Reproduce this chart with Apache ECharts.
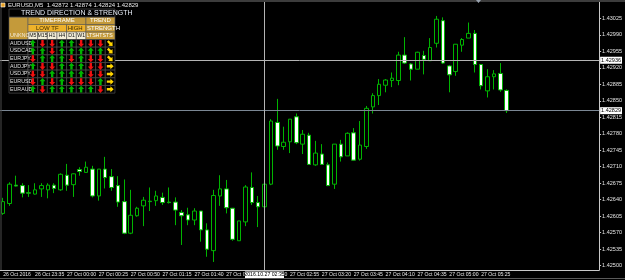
<!DOCTYPE html>
<html lang="en">
<head>
  <meta charset="UTF-8">
  <title>EURUSD M5</title>
  <style>
    html, body { margin: 0; padding: 0; background: #000; }
    #main { width: 625px; height: 280px; }
  </style>
</head>
<body>
  <div id="main"></div>
  <script src="https://cdn.jsdelivr.net/npm/echarts@6/dist/echarts.min.js"></script>
  <script>
    // M5 bar times
    const times = [
      '26 Oct 23:10', '26 Oct 23:15', '26 Oct 23:20', '26 Oct 23:25', '26 Oct 23:30', '26 Oct 23:35',
      '26 Oct 23:40', '26 Oct 23:45', '26 Oct 23:50', '26 Oct 23:55', '27 Oct 00:00', '27 Oct 00:05',
      '27 Oct 00:10', '27 Oct 00:15', '27 Oct 00:20', '27 Oct 00:25', '27 Oct 00:30', '27 Oct 00:35',
      '27 Oct 00:40', '27 Oct 00:45', '27 Oct 00:50', '27 Oct 00:55', '27 Oct 01:00', '27 Oct 01:05',
      '27 Oct 01:10', '27 Oct 01:15', '27 Oct 01:20', '27 Oct 01:25', '27 Oct 01:30', '27 Oct 01:35',
      '27 Oct 01:40', '27 Oct 01:45', '27 Oct 01:50', '27 Oct 01:55', '27 Oct 02:00', '27 Oct 02:05',
      '27 Oct 02:10', '27 Oct 02:15', '27 Oct 02:20', '27 Oct 02:25', '27 Oct 02:30', '27 Oct 02:35',
      '27 Oct 02:40', '27 Oct 02:45', '27 Oct 02:50', '27 Oct 02:55', '27 Oct 03:00', '27 Oct 03:05',
      '27 Oct 03:10', '27 Oct 03:15', '27 Oct 03:20', '27 Oct 03:25', '27 Oct 03:30', '27 Oct 03:35',
      '27 Oct 03:40', '27 Oct 03:45', '27 Oct 03:50', '27 Oct 03:55', '27 Oct 04:00', '27 Oct 04:05',
      '27 Oct 04:10', '27 Oct 04:15', '27 Oct 04:20', '27 Oct 04:25', '27 Oct 04:30', '27 Oct 04:35',
      '27 Oct 04:40', '27 Oct 04:45', '27 Oct 04:50', '27 Oct 04:55', '27 Oct 05:00', '27 Oct 05:05',
      '27 Oct 05:10', '27 Oct 05:15', '27 Oct 05:20', '27 Oct 05:25', '27 Oct 05:30', '27 Oct 05:35',
      '27 Oct 05:40', '27 Oct 05:45'
    ];
    const opens = [
      1.42611, 1.42632, 1.42671, 1.42670, 1.42655, 1.42652, 1.42663, 1.42661, 1.42671, 1.42661,
      1.42692, 1.42672, 1.42704, 1.42698, 1.42705, 1.42648, 1.42705, 1.42689, 1.42670, 1.42636,
      1.42569, 1.42606, 1.42627, 1.42637, 1.42638, 1.42645, 1.42635, 1.42635, 1.42613, 1.42608,
      1.42597, 1.42616, 1.42576, 1.42532, 1.42648, 1.42663, 1.42622, 1.42553, 1.42593, 1.42666,
      1.42634, 1.42625, 1.42673, 1.42804, 1.42753, 1.42763, 1.42816, 1.42758, 1.42777, 1.42714,
      1.42737, 1.42714, 1.42673, 1.42758, 1.42733, 1.42782, 1.42726, 1.42753, 1.42837, 1.42861,
      1.42883, 1.42893, 1.42893, 1.42947, 1.42928, 1.42917, 1.42946, 1.42935, 1.42972, 1.43020,
      1.42924, 1.42912, 1.42968, 1.42983, 1.42993, 1.42927, 1.42871, 1.42901, 1.42908, 1.42872
    ];
    const closes = [
      1.42636, 1.42673, 1.42669, 1.42654, 1.42654, 1.42661, 1.42670, 1.42671, 1.42664, 1.42694,
      1.42671, 1.42695, 1.42700, 1.42709, 1.42648, 1.42705, 1.42687, 1.42666, 1.42635, 1.42569,
      1.42607, 1.42622, 1.42639, 1.42636, 1.42648, 1.42634, 1.42634, 1.42618, 1.42606, 1.42597,
      1.42616, 1.42576, 1.42535, 1.42649, 1.42663, 1.42623, 1.42556, 1.42595, 1.42667, 1.42634,
      1.42625, 1.42673, 1.42807, 1.42754, 1.42762, 1.42811, 1.42761, 1.42779, 1.42715, 1.42739,
      1.42715, 1.42670, 1.42758, 1.42731, 1.42781, 1.42724, 1.42756, 1.42834, 1.42861, 1.42885,
      1.42894, 1.42898, 1.42947, 1.42930, 1.42917, 1.42953, 1.42938, 1.42963, 1.43023, 1.42930,
      1.42905, 1.42970, 1.42980, 1.42993, 1.42927, 1.42882, 1.42901, 1.42907, 1.42873, 1.42829
    ];
    const lows = [
      1.42608, 1.42627, 1.42668, 1.42645, 1.42646, 1.42651, 1.42646, 1.42643, 1.42654, 1.42659,
      1.42659, 1.42646, 1.42691, 1.42698, 1.42645, 1.42638, 1.42664, 1.42659, 1.42625, 1.42567,
      1.42567, 1.42604, 1.42584, 1.42616, 1.42627, 1.42629, 1.42632, 1.42586, 1.42544, 1.42586,
      1.42586, 1.42551, 1.42519, 1.42508, 1.42627, 1.42611, 1.42553, 1.42553, 1.42584, 1.42629,
      1.42582, 1.42622, 1.42671, 1.42746, 1.42746, 1.42739, 1.42758, 1.42737, 1.42714, 1.42712,
      1.42714, 1.42669, 1.42663, 1.42721, 1.42733, 1.42723, 1.42723, 1.42748, 1.42823, 1.42841,
      1.42868, 1.42879, 1.42883, 1.42928, 1.42893, 1.42917, 1.42906, 1.42935, 1.42963, 1.42928,
      1.42868, 1.42903, 1.42954, 1.42983, 1.42910, 1.42874, 1.42857, 1.42874, 1.42869, 1.42824
    ];
    const highs = [
      1.42644, 1.42677, 1.42691, 1.42675, 1.42671, 1.42675, 1.42675, 1.42675, 1.42675, 1.42696,
      1.42716, 1.42696, 1.42709, 1.42721, 1.42712, 1.42705, 1.42731, 1.42705, 1.42690, 1.42683,
      1.42661, 1.42625, 1.42646, 1.42666, 1.42659, 1.42655, 1.42666, 1.42645, 1.42618, 1.42623,
      1.42622, 1.42616, 1.42590, 1.42661, 1.42692, 1.42682, 1.42622, 1.42595, 1.42671, 1.42698,
      1.42648, 1.42686, 1.42811, 1.42854, 1.42795, 1.42811, 1.42823, 1.42788, 1.42782, 1.42765,
      1.42758, 1.42719, 1.42758, 1.42767, 1.42783, 1.42792, 1.42807, 1.42839, 1.42866, 1.42896,
      1.42896, 1.42910, 1.42954, 1.42985, 1.42930, 1.42954, 1.42956, 1.42983, 1.43030, 1.43027,
      1.42926, 1.42970, 1.42983, 1.43016, 1.43000, 1.42927, 1.42917, 1.42915, 1.42930, 1.42874
    ];
    const priceTicks = [
      1.42500, 1.42535, 1.42570, 1.42605, 1.42640, 1.42675, 1.42710, 1.42745,
      1.42780, 1.42815, 1.42850, 1.42885, 1.42920, 1.42955, 1.42990, 1.43025
    ];
    const cursorPrice = 1.42936;
    const cursorTime = '27 Oct 02:35';
    const cursorLabel = '2016.10.27 02:35';

    // indicator table
    const pairs = ['AUDUSD', 'USDCAD', 'EURJPY', 'AUDJPY', 'USDJPY', 'EURUSD', 'EURAUD'];
    const tfNames = ['M5', 'M15', 'H1', 'H4', 'D1', 'W1'];
    // 1 = up, -1 = down : six timeframes then two strength columns
    const tfArrows = [
      [1, -1, -1, 1, 1, -1, -1, -1],
      [1, 1, -1, 1, 1, 1, 1, 1],
      [-1, 1, 1, 1, -1, 1, -1, -1],
      [1, -1, -1, 1, 1, 1, -1, -1],
      [-1, -1, 1, 1, 1, 1, -1, -1],
      [-1, 1, -1, 1, -1, -1, -1, 1],
      [1, -1, 1, 1, 1, 1, 1, -1]
    ];
    const trendArrows = ['se', 'se', 'se', 'e', 'e', 'e', 'e'];

    const FONT = "'Liberation Sans',Arial,sans-serif";
    const slots = 94; // bars that fit in the window incl. right shift
    const cats = times.concat(new Array(slots - times.length).fill(''));
    const candles = opens.map((o, i) => [o, closes[i], lows[i], highs[i]]);
    const last = candles.length - 1;

    // ---- overlay table (graphic) ----
    const g = [];
    const rect = (x, y, w, h, fill, stroke) => ({
      type: 'rect', z: 100, silent: true,
      shape: { x: x, y: y, width: w, height: h },
      style: { fill: fill, stroke: stroke || '#5a5a5a', lineWidth: 0.6 }
    });
    const txt = (x, y, s, fill, size, align, weight) => ({
      type: 'text', z: 101, silent: true, x: x, y: y,
      style: {
        text: s, fill: fill, font: (weight || 'normal') + ' ' + size + 'px ' + FONT,
        align: align || 'center', verticalAlign: 'middle'
      }
    });
    const upPts = [[0, -3.6], [3, -0.3], [1.2, -0.3], [1.2, 3.3], [-1.2, 3.3], [-1.2, -0.3], [-3, -0.3]];
    const arrow = (cx, cy, deg, fill) => {
      const a = deg * Math.PI / 180;
      const pts = upPts.map(p => [cx + p[0] * Math.cos(a) - p[1] * Math.sin(a),
                                  cy + p[0] * Math.sin(a) + p[1] * Math.cos(a)]);
      return { type: 'polygon', z: 102, silent: true, shape: { points: pts }, style: { fill: fill } };
    };

    const tx = 9, nameW = 19, colW = 9.66, rowH = 7.66, rowTop = 39.5;
    const colX = i => tx + nameW + (i + 0.5) * colW;
    const tEnd = tx + nameW + 9 * colW;

    // header line
    g.push(rect(1, 3, 4, 4, '#e8a020', '#fff'));
    g.push(txt(8, 5, 'EURUSD,M5  ' + opens[last].toFixed(5) + ' ' + highs[last].toFixed(5) + ' ' +
      lows[last].toFixed(5) + ' ' + closes[last].toFixed(5), '#e8e8e8', 6, 'left'));
    // title
    g.push(rect(tx, 9, tEnd - tx, 8.2, '#000'));
    g.push(txt(21, 13.3, 'TREND DIRECTION & STRENGTH', '#e6ecf6', 7, 'left'));
    // group headers
    g.push(rect(tx, 17.2, nameW, rowTop - 17.2, '#c49a3a'));
    g.push(txt(tx + 1, 35.8, 'UNKNO', '#f2ead8', 5.5, 'left'));
    g.push(rect(tx + nameW, 17.2, 6 * colW, 7.3, '#c49a3a'));
    g.push(txt(tx + nameW + 3 * colW, 20.8, 'TIMEFRAME', '#ffffff', 6));
    g.push(rect(tx + nameW + 6 * colW, 17.2, 3 * colW, 7.3, '#c49a3a'));
    g.push(txt(tx + nameW + 7.5 * colW, 20.8, 'TREND', '#ffffff', 6));
    g.push(rect(tx + nameW, 24.5, 4 * colW, 7.5, '#efb22a'));
    g.push(txt(tx + nameW + 2 * colW, 28.3, 'LOW TF', '#3a2a00', 6));
    g.push(rect(tx + nameW + 4 * colW, 24.5, 2 * colW, 7.5, '#efb22a'));
    g.push(txt(tx + nameW + 4 * colW + 1, 28.3, 'HIGH', '#3a2a00', 6, 'left'));
    g.push(rect(tx + nameW + 6 * colW, 24.5, 3 * colW, 7.5, '#c49a3a'));
    g.push(txt(tx + nameW + 6 * colW + 1, 28.3, 'STRENGTH', '#ffffff', 6, 'left'));
    // column names
    tfNames.forEach((n, i) => {
      g.push(rect(tx + nameW + i * colW, 32, colW, rowTop - 32, '#f4eed8'));
      g.push(txt(colX(i), 35.8, n, '#101010', 5.2));
    });
    g.push(rect(tx + nameW + 6 * colW, 32, 3 * colW, rowTop - 32, '#c49a3a'));
    g.push(txt(tx + nameW + 6 * colW + 0.5, 35.8, 'LTSHTSTS', '#ffffff', 5.2, 'left'));
    // rows
    pairs.forEach((p, r) => {
      const y0 = rowTop + r * rowH;
      const cy = y0 + rowH / 2;
      g.push(rect(tx, y0, nameW, rowH, '#000'));
      g.push(txt(tx + 1, cy, p, '#e0e0e0', 5.3, 'left'));
      for (let c = 0; c < 9; c++) g.push(rect(tx + nameW + c * colW, y0, colW, rowH, '#000'));
      tfArrows[r].forEach((d, c) => {
        g.push(arrow(colX(c), cy, d > 0 ? 0 : 180, d > 0 ? '#00b400' : '#f01010'));
      });
      g.push(arrow(colX(8), cy, trendArrows[r] === 'se' ? 135 : 90, '#ffd400'));
    });

    // window frame bits
    g.push({ type: 'rect', z: 90, silent: true, shape: { x: 0, y: 0, width: 625, height: 2 }, style: { fill: '#3c3c3c' } });
    g.push({ type: 'polygon', z: 91, silent: true, shape: { points: [[476, 0], [481, 0], [478.5, 3]] }, style: { fill: '#9aa4b0' } });
    g.push({ type: 'line', z: 90, silent: true, shape: { x1: 1, y1: 0, x2: 1, y2: 270 }, style: { stroke: '#4a4a4a', lineWidth: 1 } });
    g.push({ type: 'line', z: 90, silent: true, shape: { x1: 0, y1: 278.5, x2: 625, y2: 278.5 }, style: { stroke: '#5a5a5a', lineWidth: 1 } });
    // crosshair time box
    g.push({ type: 'rect', z: 95, silent: true, shape: { x: 245, y: 271.5, width: 39, height: 6.5 }, style: { fill: '#ffffff' } });
    g.push(txt(264.5, 274.8, cursorLabel, '#000', 5.2, 'center'));

    const lbl = {
      show: true, position: 'end', distance: 1,
      formatter: p => Number(p.value).toFixed(5),
      backgroundColor: '#ffffff', color: '#000', padding: [1, 1, 0, 1],
      fontSize: 5.5, fontFamily: FONT
    };

    const chart = echarts.init(document.getElementById('main'));
    chart.setOption({
      backgroundColor: '#000',
      animation: false,
      grid: { left: -1.5, right: 25, top: 2, bottom: 10 },
      xAxis: {
        type: 'category',
        data: cats,
        boundaryGap: true,
        axisLine: { lineStyle: { color: '#c8c8c8', width: 1 } },
        axisTick: {
          alignWithLabel: true, length: 2,
          interval: (i, v) => v !== '' && i % 5 === 0,
          lineStyle: { color: '#c8c8c8' }
        },
        axisLabel: {
          interval: (i, v) => v !== '' && i % 5 === 0,
          formatter: (v, i) => (i === 0 ? '26 Oct 2016' : v),
          showMinLabel: true, showMaxLabel: true, hideOverlap: false,
          align: 'left', margin: 2,
          color: '#e4e4e4', fontSize: 5.1, fontFamily: FONT
        },
        splitLine: { show: false }
      },
      yAxis: {
        type: 'value',
        position: 'right',
        scale: true,
        min: 1.424909,
        max: 1.430596,
        axisLine: { show: true, lineStyle: { color: '#c8c8c8', width: 1 } },
        axisTick: { show: true, length: 2, customValues: priceTicks, lineStyle: { color: '#c8c8c8' } },
        axisLabel: {
          customValues: priceTicks,
          formatter: v => v.toFixed(5),
          margin: 3, color: '#e4e4e4', fontSize: 5.5, fontFamily: FONT
        },
        splitLine: { show: false }
      },
      series: [{
        type: 'candlestick',
        data: candles,
        barWidth: 4,
        itemStyle: {
          color: '#000000',
          color0: '#ffffff',
          borderColor: '#00b400',
          borderColor0: '#00b400',
          borderWidth: 1
        },
        markLine: {
          silent: true,
          symbol: 'none',
          animation: false,
          precision: 5,
          data: [
            { yAxis: closes[last], lineStyle: { color: '#7b8794', type: 'solid', width: 1 }, label: lbl },
            { yAxis: cursorPrice, lineStyle: { color: '#b4b4b4', type: 'solid', width: 1 }, label: lbl },
            { xAxis: cursorTime, lineStyle: { color: '#b4b4b4', type: 'solid', width: 1 }, label: { show: false } }
          ]
        }
      }],
      graphic: g
    });
  </script>
</body>
</html>
